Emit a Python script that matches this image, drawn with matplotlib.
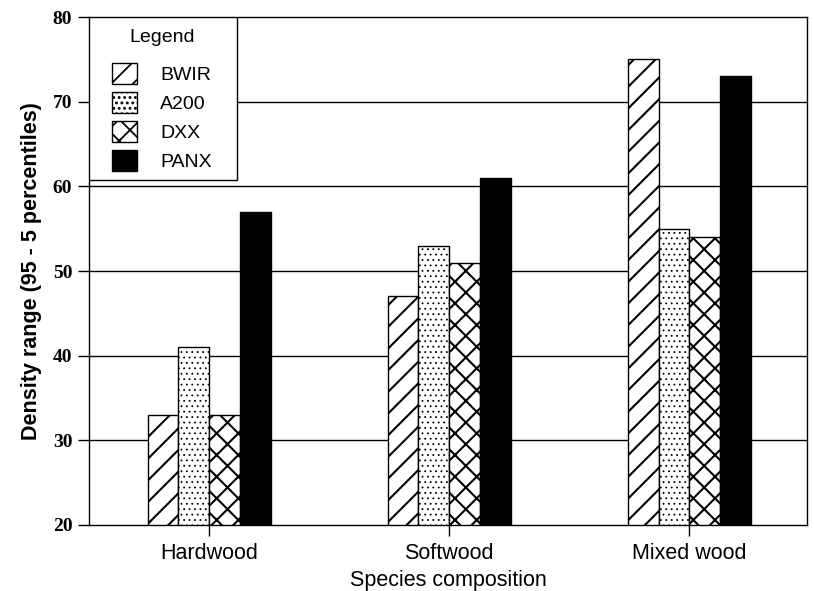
import numpy as np
import matplotlib
matplotlib.use('Agg')
import matplotlib.pyplot as plt
from matplotlib.patches import Rectangle

# Donnees
groups = ['Hardwood', 'Softwood', 'Mixed wood']
methods = ['BWIR', 'A200', 'DXX', 'PANX']
bwir = [33, 47, 75]
a200 = [41, 53, 55]
dxx = [33, 51, 54]
panx = [57, 61, 73]
yticks = [20, 30, 40, 50, 60, 70, 80]

# dpi plus eleve pour espacer les hachures, tailles en points ramenees par K
DPI = 130
K = 100 / DPI

series = [bwir, a200, dxx, panx]
hatches = ['//', '....', 'xx', None]
hatch_lw = [1.5 * K, 0.6 * K, 1.5 * K, 1.0 * K]
faces = ['white', 'white', 'white', 'black']

fig = plt.figure(figsize=(814 / DPI, 591 / DPI), dpi=DPI)
ax = fig.add_axes([0.1093, 0.1117, 0.8821, 0.8595])

x = np.arange(len(groups))
w = 0.128
offsets = [-1.5 * w, -0.5 * w, 0.5 * w, 1.5 * w]

for vals, off, h, hlw, fc, name in zip(series, offsets, hatches, hatch_lw, faces, methods):
    with plt.rc_context({'hatch.linewidth': hlw}):
        ax.bar(x + off, np.array(vals) - 20, w, bottom=20, facecolor=fc,
               edgecolor='black', hatch=h, linewidth=1.0 * K, label=name, zorder=3)

ax.set_xlim(-0.5, 2.49)
ax.set_ylim(20, 80)
ax.set_yticks(yticks)
ax.set_yticklabels([str(t) for t in yticks], fontfamily='Liberation Serif',
                   fontweight='bold', fontsize=14 * K)
ax.set_xticks(x)
ax.set_xticklabels(groups, fontfamily='Liberation Sans', fontsize=15.5 * K)
ax.tick_params(axis='both', direction='out', length=8 * K, width=1 * K, colors='black')
ax.tick_params(axis='y', pad=4 * K)
ax.tick_params(axis='x', pad=5 * K)

for y in yticks[1:-1]:
    ax.axhline(y, color='black', linewidth=1.0 * K, zorder=1)

for s in ax.spines.values():
    s.set_linewidth(1.0 * K)

ax.set_ylabel('Density range (95 - 5 percentiles)', fontfamily='Liberation Sans',
              fontweight='bold', fontsize=15.5 * K, labelpad=8 * K)
ax.set_xlabel('Species composition', fontfamily='Liberation Sans', fontsize=15.5 * K,
              labelpad=4 * K)

# cadre de la legende
box = Rectangle((0, 0.679), 0.206, 0.321, transform=ax.transAxes,
                facecolor='white', edgecolor='black', linewidth=1.0 * K, zorder=4)
ax.add_patch(box)

leg = ax.legend(title='Legend', loc='upper left', bbox_to_anchor=(0.032, 0.976),
                borderaxespad=0, borderpad=0, frameon=False,
                handlelength=1.28, handleheight=1.28, handletextpad=1.2,
                labelspacing=0.42,
                prop={'family': 'Liberation Sans', 'size': 14 * K},
                title_fontproperties={'family': 'Liberation Sans', 'size': 14 * K})
leg._legend_box.sep = 12 * K
leg.set_zorder(5)

plt.savefig('out.png', dpi=DPI)
